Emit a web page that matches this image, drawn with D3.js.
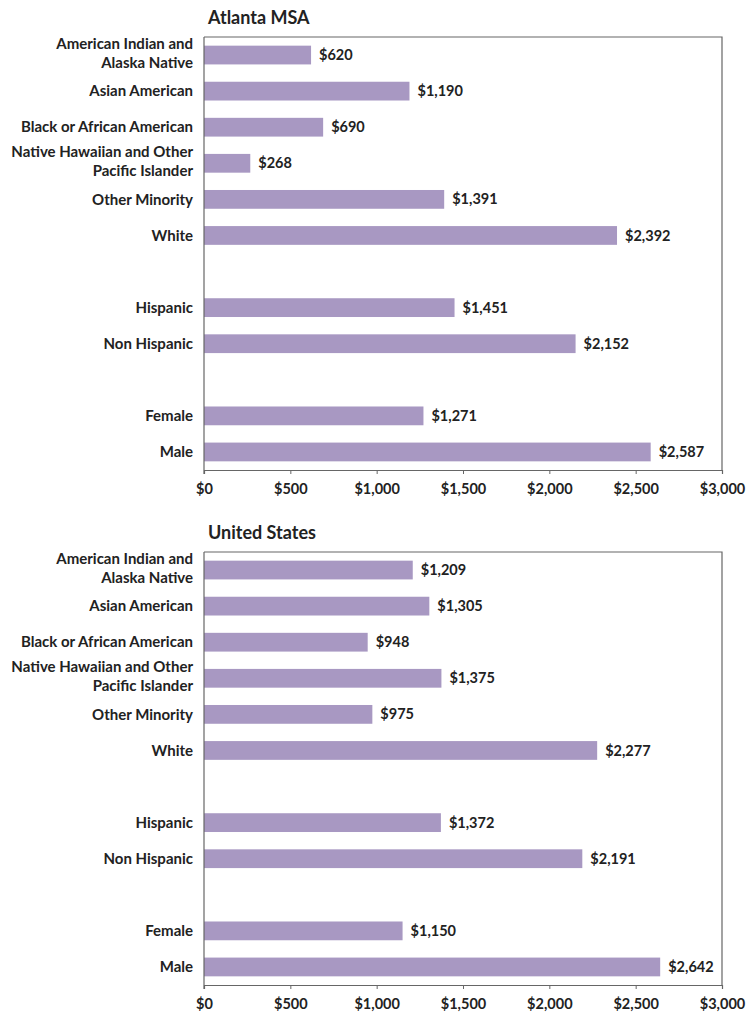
<!DOCTYPE html>
<html>
<head>
<meta charset="utf-8">
<script src="https://cdn.jsdelivr.net/npm/d3@7"></script>
<style>
  html, body { margin: 0; padding: 0; background: #fff; }
  svg { display: block; }
  text { font-family: Lato, "Open Sans", sans-serif; fill: #222; }
</style>
</head>
<body>
<svg id="chart" width="747" height="1015"></svg>
<script>
// Categories (a "|" marks a line break in the label), grouped by race / ethnicity / sex
const categories = [
  "American Indian and|Alaska Native",
  "Asian American",
  "Black or African American",
  "Native Hawaiian and Other|Pacific Islander",
  "Other Minority",
  "White",
  "Hispanic",
  "Non Hispanic",
  "Female",
  "Male"
];
const groupSizes = [6, 2, 2];

const panelTitles = ["Atlanta MSA", "United States"];
const atlantaValues = [620, 1190, 690, 268, 1391, 2392, 1451, 2152, 1271, 2587];
const usValues = [1209, 1305, 948, 1375, 975, 2277, 1372, 2191, 1150, 2642];
const tickValues = [0, 500, 1000, 1500, 2000, 2500, 3000];

const svg = d3.select("#chart");
const barColor = "#a898c2";
const textColor = "#2a2a2a";
const fmt = v => "$" + d3.format(",")(v);

// Band domain: one slot per category, with an empty slot between groups
const slots = [];
let idx = 0;
groupSizes.forEach((n, g) => {
  if (g > 0) slots.push("gap" + g);
  for (let i = 0; i < n; i++) slots.push("c" + (idx++));
});

const x = d3.scaleLinear().domain([0, 3000]).range([204, 722]);

function drawPanel(title, values, top) {
  const plotTop = top + 37, plotBottom = top + 470;
  const g = svg.append("g");
  const y = d3.scaleBand().domain(slots).range([plotTop, plotBottom])
    .paddingInner(0.48).paddingOuter(0.24);

  g.append("text").attr("x", 208).attr("y", top + 24)
    .attr("font-size", 18).attr("font-weight", 700).attr("fill", "#111").text(title);

  // plot frame (top and right edges)
  g.append("path")
    .attr("d", `M${x(0)},${plotTop}H${x(3000)}V${plotBottom}`)
    .attr("fill", "none").attr("stroke", "#666").attr("stroke-width", 1.2);

  const rows = values.map((v, i) => ({ v, label: categories[i], key: "c" + i }));

  g.selectAll("rect.bar").data(rows).join("rect")
    .attr("class", "bar")
    .attr("x", x(0))
    .attr("y", d => y(d.key))
    .attr("width", d => x(d.v) - x(0))
    .attr("height", y.bandwidth())
    .attr("fill", barColor);

  g.selectAll("text.val").data(rows).join("text")
    .attr("class", "val")
    .attr("x", d => x(d.v) + 8)
    .attr("y", d => y(d.key) + y.bandwidth() / 2)
    .attr("dy", "0.35em")
    .attr("font-size", 14.5).attr("font-weight", 700).attr("fill", textColor)
    .text(d => fmt(d.v));

  // category labels
  const lab = g.selectAll("text.cat").data(rows).join("text")
    .attr("class", "cat")
    .attr("text-anchor", "end")
    .attr("font-size", 15).attr("font-weight", 700).attr("fill", textColor);
  lab.each(function(d) {
    const lines = d.label.split("|");
    const cy = y(d.key) + y.bandwidth() / 2;
    const lh = 18.5;
    const start = cy - (lines.length - 1) * lh / 2 - (lines.length > 1 ? 2 : 0);
    d3.select(this).selectAll("tspan").data(lines).join("tspan")
      .attr("x", 193)
      .attr("y", (l, i) => start + i * lh)
      .attr("dy", "0.35em")
      .text(l => l);
  });

  // x axis
  const ax = g.append("g").attr("transform", `translate(0,${plotBottom})`)
    .call(d3.axisBottom(x).tickValues(tickValues).tickFormat(fmt).tickSize(4).tickSizeOuter(4));
  ax.select(".domain").attr("stroke", "#666").attr("stroke-width", 1.2);
  ax.selectAll(".tick line").attr("stroke", "#666");
  ax.selectAll(".tick text").attr("font-size", 14.5).attr("font-weight", 700)
    .attr("fill", textColor).attr("y", 10).attr("dy", "0.95em")
    .style("font-family", "Lato, 'Open Sans', sans-serif");

  // y axis line
  g.append("line").attr("x1", x(0)).attr("x2", x(0))
    .attr("y1", plotTop).attr("y2", plotBottom + 4)
    .attr("stroke", "#666").attr("stroke-width", 1.2);
}

drawPanel(panelTitles[0], atlantaValues, 0);
drawPanel(panelTitles[1], usValues, 515);
</script>
</body>
</html>
